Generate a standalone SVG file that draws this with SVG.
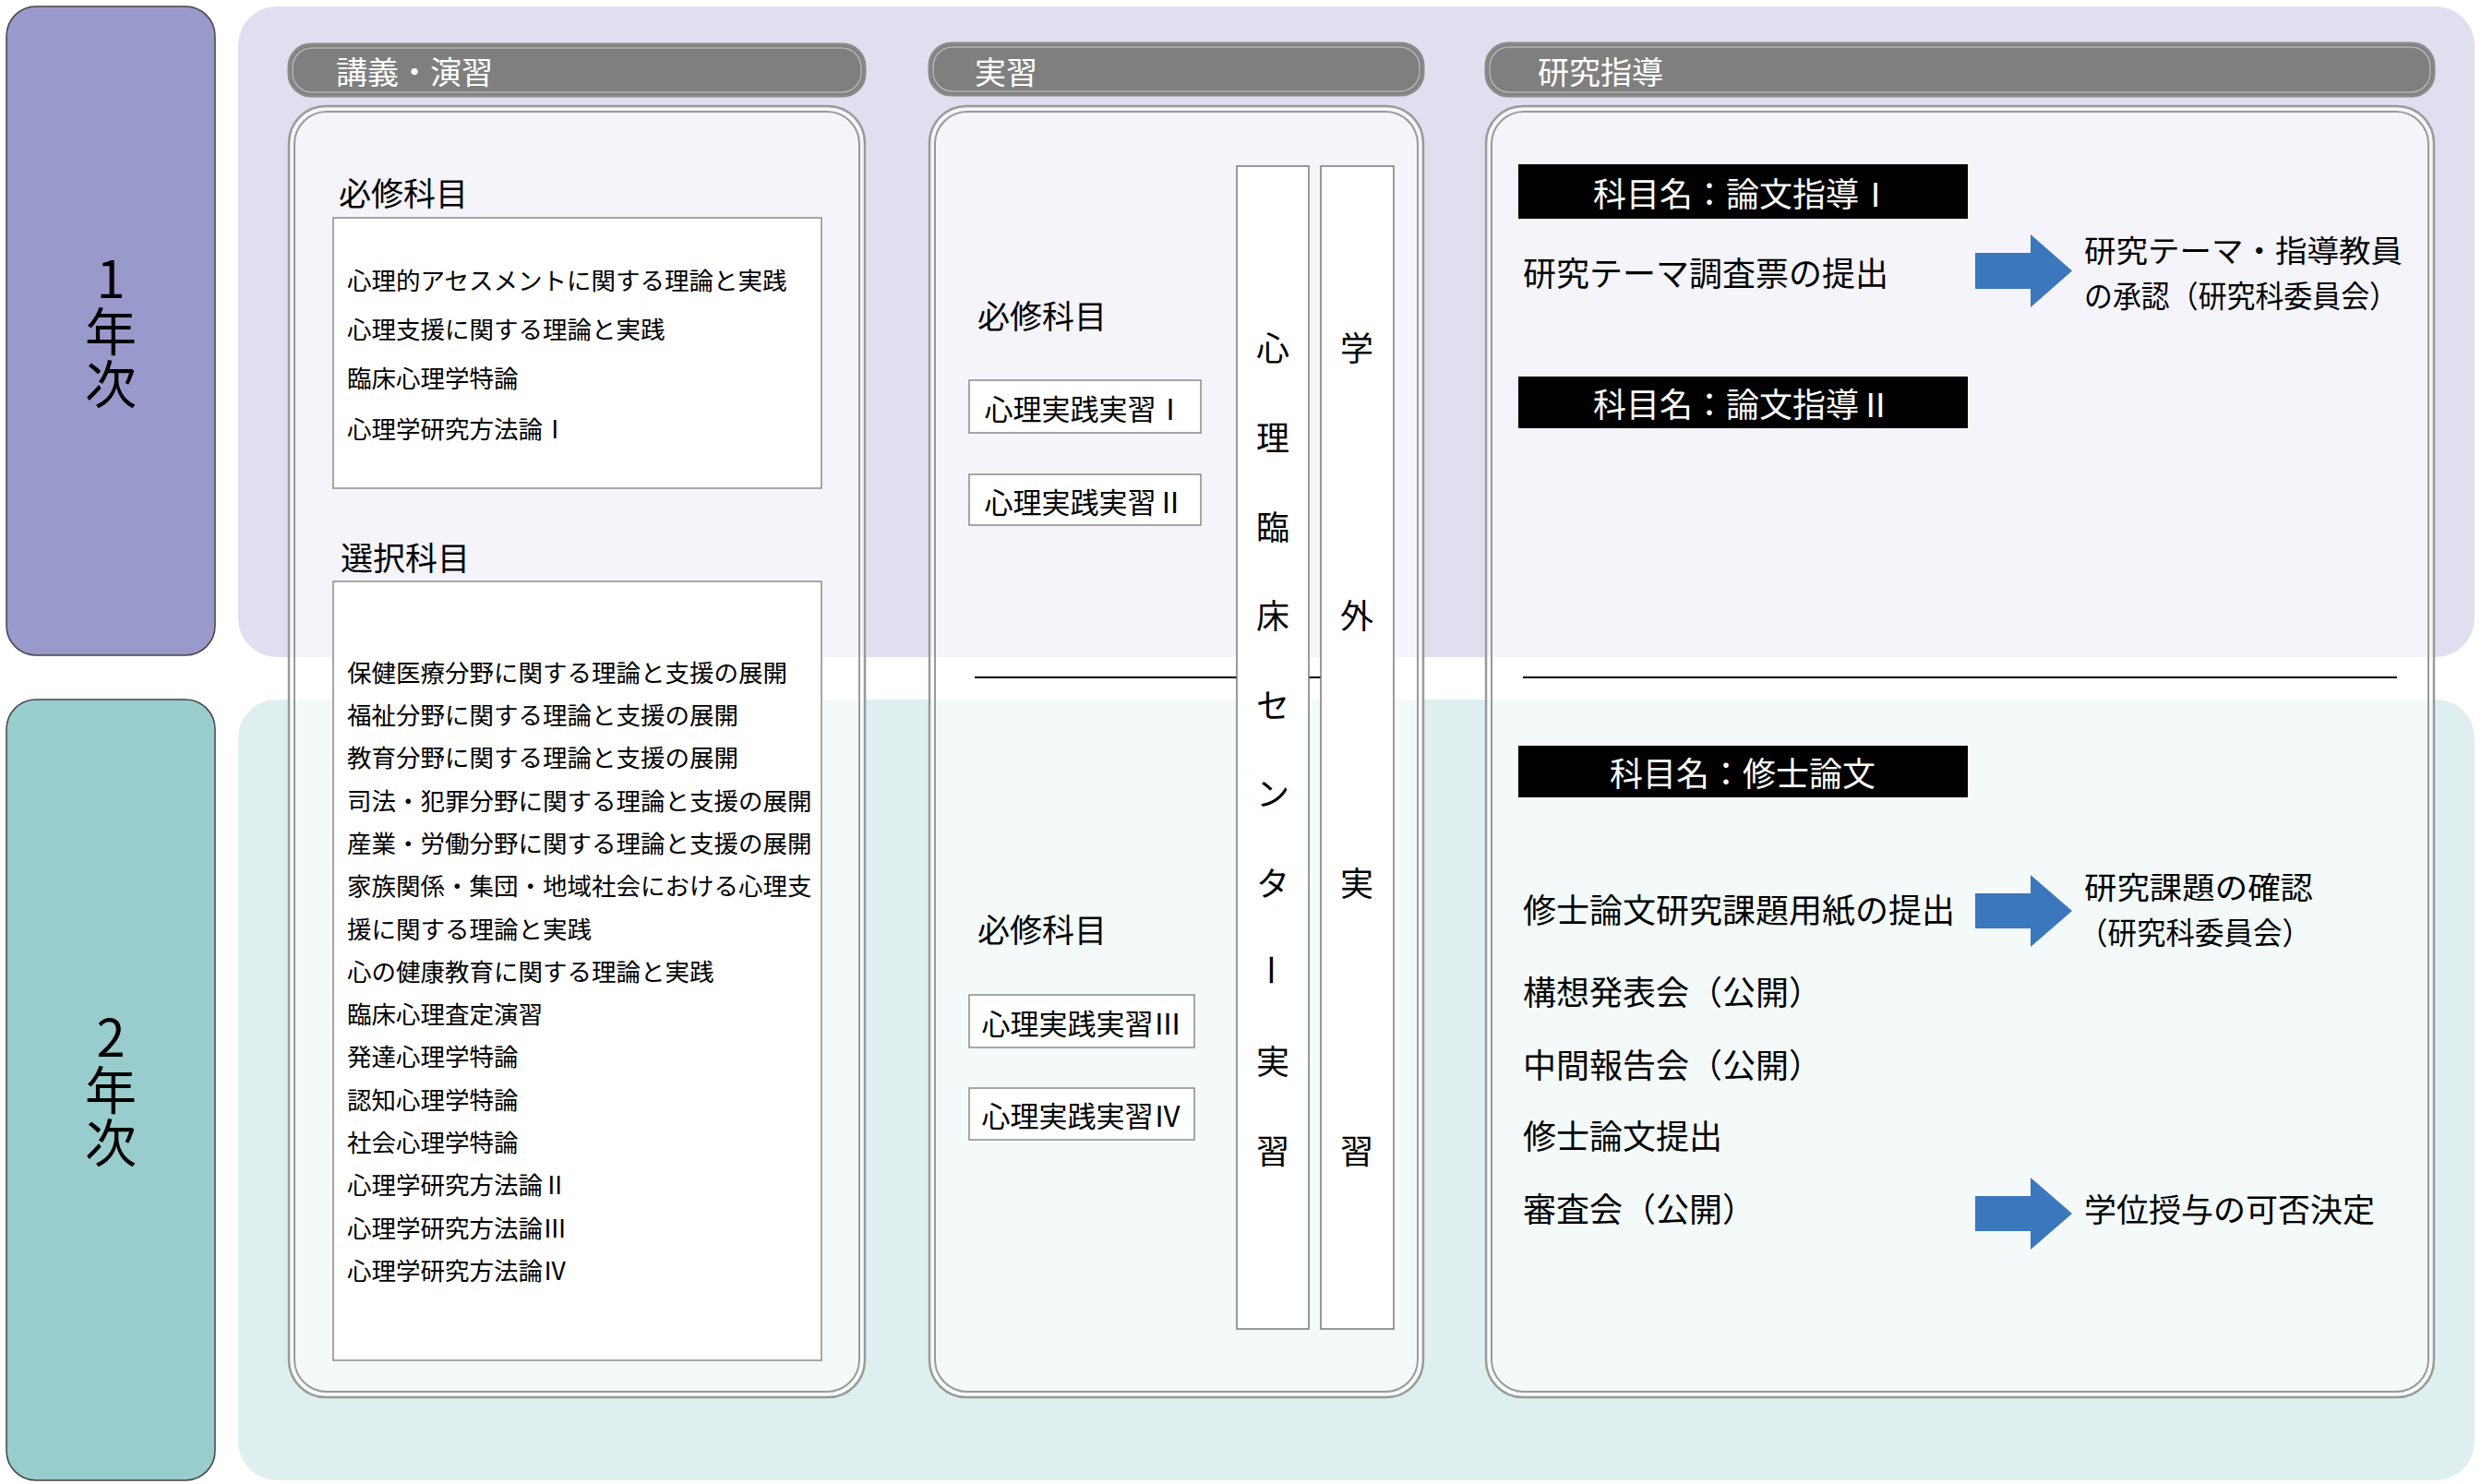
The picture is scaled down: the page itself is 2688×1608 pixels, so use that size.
<svg xmlns="http://www.w3.org/2000/svg" width="2688" height="1608" viewBox="0 0 2688 1608">
<style>
text{font-family:'Noto Sans CJK JP','Noto Sans',sans-serif;fill:#000;dominant-baseline:central}
.yr{font-size:56px;text-anchor:middle;writing-mode:vertical-rl;text-orientation:upright;letter-spacing:1px}
.hdr{fill:#fff;font-size:34px}
.h2{font-size:35px}
.li{font-size:26.5px}
.bx{font-size:31px;text-anchor:middle}
.vt{font-size:36px;text-anchor:middle}
.rt{font-size:36px}
.at{font-size:35px}
.at2{font-size:33px}
.bk{fill:#fff;font-size:36px;text-anchor:middle}
.hbar{fill:#7f7f7f;stroke:#8a8a8a;stroke-width:3}
.hbarIn{fill:none;stroke:#b4b4b4;stroke-width:1.5}
.pnl{fill:#fff;fill-opacity:0.66;stroke:#9a9a9a;stroke-width:2.5}
.pnlIn{fill:none;stroke:#9a9a9a;stroke-width:2}
.lbox{fill:#fff;stroke:#8a8a8a;stroke-width:1.5}
.vbox{fill:#fff;stroke:#7a7a7a;stroke-width:1.5}
.blk{fill:#000}
.arr{fill:#3b77bd}
.sep{stroke:#000;stroke-width:2}
</style>

<g id="bands">
<rect x="258" y="7" width="2423" height="705" rx="42" fill="#dfdfef"/>
<rect x="258" y="758" width="2423" height="846" rx="42" fill="#dfefef"/>
</g>

<g id="year1">
<rect x="7" y="7" width="226" height="703" rx="32" fill="#9999cc" stroke="#444" stroke-width="1.5"/>
<text class="yr" x="120" y="359">1年次</text>
</g>
<g id="year2">
<rect x="7" y="758" width="226" height="846" rx="32" fill="#99cccc" stroke="#444" stroke-width="1.5"/>
<text class="yr" x="120" y="1181">2年次</text>
</g>

<g id="lecture">
<rect class="hbar" x="313" y="48" width="624" height="56" rx="24"/>
<rect class="hbarIn" x="317" y="52" width="616" height="48" rx="21"/>
<text class="hdr" x="364" y="76">講義・演習</text>
<rect class="pnl" x="313" y="115" width="624" height="1399" rx="40"/>
<rect class="pnlIn" x="319" y="121" width="612" height="1387" rx="35"/>
<text class="h2" x="367" y="207">必修科目</text>
<rect class="lbox" x="361" y="236" width="529" height="293"/>
<text class="li" x="376" y="302">心理的アセスメントに関する理論と実践</text>
<text class="li" x="376" y="355">心理支援に関する理論と実践</text>
<text class="li" x="376" y="408">臨床心理学特論</text>
<text class="li" x="376" y="463">心理学研究方法論Ⅰ</text>
<text class="h2" x="369" y="602">選択科目</text>
<rect class="lbox" x="361" y="630" width="529" height="844"/>
<text class="li" x="376" y="727">保健医療分野に関する理論と支援の展開</text>
<text class="li" x="376" y="773">福祉分野に関する理論と支援の展開</text>
<text class="li" x="376" y="819">教育分野に関する理論と支援の展開</text>
<text class="li" x="376" y="866">司法・犯罪分野に関する理論と支援の展開</text>
<text class="li" x="376" y="912">産業・労働分野に関する理論と支援の展開</text>
<text class="li" x="376" y="958">家族関係・集団・地域社会における心理支</text>
<text class="li" x="376" y="1005">援に関する理論と実践</text>
<text class="li" x="376" y="1051">心の健康教育に関する理論と実践</text>
<text class="li" x="376" y="1097">臨床心理査定演習</text>
<text class="li" x="376" y="1143">発達心理学特論</text>
<text class="li" x="376" y="1190">認知心理学特論</text>
<text class="li" x="376" y="1236">社会心理学特論</text>
<text class="li" x="376" y="1282">心理学研究方法論Ⅱ</text>
<text class="li" x="376" y="1329">心理学研究方法論Ⅲ</text>
<text class="li" x="376" y="1375">心理学研究方法論Ⅳ</text>
</g>

<g id="practice">
<rect class="hbar" x="1007" y="47" width="535" height="56" rx="24"/>
<rect class="hbarIn" x="1011" y="51" width="527" height="48" rx="21"/>
<text class="hdr" x="1056" y="76">実習</text>
<rect class="pnl" x="1007" y="115" width="535" height="1399" rx="40"/>
<rect class="pnlIn" x="1013" y="121" width="523" height="1387" rx="35"/>
<line class="sep" x1="1056" y1="734" x2="1431" y2="734"/>
<text class="h2" x="1059" y="340">必修科目</text>
<rect class="lbox" x="1050" y="412" width="251" height="57"/>
<text class="bx" x="1175" y="441">心理実践実習Ⅰ</text>
<rect class="lbox" x="1050" y="514" width="251" height="55"/>
<text class="bx" x="1175" y="542">心理実践実習Ⅱ</text>
<text class="h2" x="1059" y="1005">必修科目</text>
<rect class="lbox" x="1050" y="1078" width="244" height="57"/>
<text class="bx" x="1172" y="1107">心理実践実習Ⅲ</text>
<rect class="lbox" x="1050" y="1179" width="244" height="56"/>
<text class="bx" x="1172" y="1207">心理実践実習Ⅳ</text>
</g>

<g id="center-practice">
<rect class="vbox" x="1340" y="180" width="78" height="1260"/>
<text class="vt" x="1379" y="375">心</text>
<text class="vt" x="1379" y="472">理</text>
<text class="vt" x="1379" y="569">臨</text>
<text class="vt" x="1379" y="665">床</text>
<text class="vt" x="1379" y="762">セ</text>
<text class="vt" x="1379" y="858">ン</text>
<text class="vt" x="1379" y="955">タ</text>
<text class="vt" x="1379" y="1051" transform="rotate(90 1379 1051)">ー</text>
<text class="vt" x="1379" y="1148">実</text>
<text class="vt" x="1379" y="1245">習</text>
</g>

<g id="external-practice">
<rect class="vbox" x="1431" y="180" width="79" height="1260"/>
<text class="vt" x="1470" y="375">学</text>
<text class="vt" x="1470" y="665">外</text>
<text class="vt" x="1470" y="955">実</text>
<text class="vt" x="1470" y="1245">習</text>
</g>

<g id="research">
<rect class="hbar" x="1610" y="47" width="1027" height="57" rx="24"/>
<rect class="hbarIn" x="1614" y="51" width="1019" height="49" rx="21"/>
<text class="hdr" x="1666" y="76">研究指導</text>
<rect class="pnl" x="1610" y="115" width="1027" height="1399" rx="40"/>
<rect class="pnlIn" x="1616" y="121" width="1015" height="1387" rx="35"/>
<line class="sep" x1="1650" y1="734" x2="2597" y2="734"/>
</g>

<g id="thesis1">
<rect class="blk" x="1645" y="178" width="487" height="59"/>
<text class="bk" x="1888" y="208">科目名：論文指導Ⅰ</text>
<text class="rt" x="1650" y="294">研究テーマ調査票の提出</text>
<text class="at2" x="2258" y="270" textLength="345" lengthAdjust="spacingAndGlyphs">研究テーマ・指導教員</text>
<text class="at2" x="2258" y="318.5" textLength="340" lengthAdjust="spacingAndGlyphs">の承認（研究科委員会）</text>
</g>

<g id="thesis2">
<rect class="blk" x="1645" y="408" width="487" height="56"/>
<text class="bk" x="1888" y="436">科目名：論文指導Ⅱ</text>
</g>

<g id="thesis3">
<rect class="blk" x="1645" y="808" width="487" height="56"/>
<text class="bk" x="1888" y="836">科目名：修士論文</text>
<text class="rt" x="1650" y="984">修士論文研究課題用紙の提出</text>
<text class="at2" x="2258" y="960" textLength="248" lengthAdjust="spacingAndGlyphs">研究課題の確認</text>
<text class="at2" x="2252" y="1008.5" textLength="252" lengthAdjust="spacingAndGlyphs">（研究科委員会）</text>
<text class="rt" x="1650" y="1073">構想発表会（公開）</text>
<text class="rt" x="1650" y="1152">中間報告会（公開）</text>
<text class="rt" x="1650" y="1229">修士論文提出</text>
<text class="rt" x="1650" y="1308">審査会（公開）</text>
<text class="at" x="2258" y="1308">学位授与の可否決定</text>
</g>

<g id="connectors">
<polygon class="arr" points="2140,274 2200,274 2200,254 2245,293.5 2200,333 2200,313 2140,313"/>
<polygon class="arr" points="2140,968 2200,968 2200,948 2245,987 2200,1026 2200,1006 2140,1006"/>
<polygon class="arr" points="2140,1296 2200,1296 2200,1276 2245,1315 2200,1354 2200,1334 2140,1334"/>
</g>
</svg>
